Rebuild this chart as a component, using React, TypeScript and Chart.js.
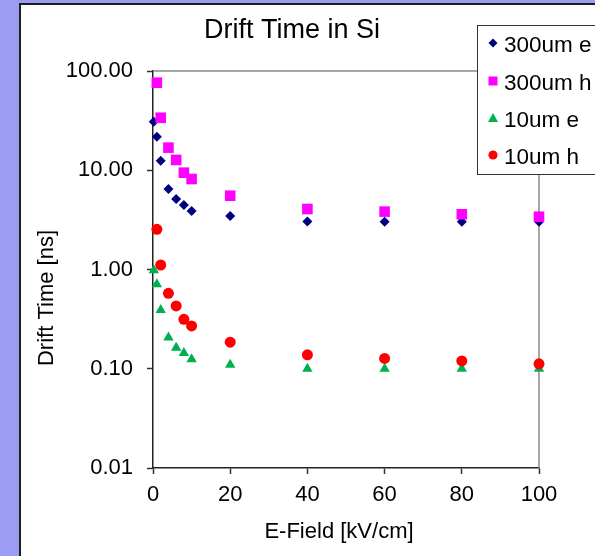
import React, { useEffect, useRef } from "react";
import { Chart, registerables } from "chart.js";

Chart.register(...registerables);

// ---- data ----
const fieldE = [0.2, 1, 2, 4, 6, 8, 10, 20, 40, 60, 80, 100];
const fieldH = [1, 2, 4, 6, 8, 10, 20, 40, 60, 80, 100];
const t300e = [30.8, 21.8, 12.5, 6.47, 5.13, 4.47, 3.88, 3.46, 3.04, 3.03, 3.02, 3.02];
const t300h = [76.2, 33.8, 16.9, 12.7, 9.45, 8.16, 5.54, 4.07, 3.83, 3.6, 3.4];
const t10e = [0.98, 0.71, 0.39, 0.207, 0.163, 0.144, 0.125, 0.11, 0.1, 0.1, 0.1, 0.1];
const t10h = [2.54, 1.11, 0.575, 0.429, 0.315, 0.27, 0.185, 0.138, 0.127, 0.12, 0.112];
const yTickValues = [0.01, 0.1, 1, 10, 100];
const seriesNames = ["300um e", "300um h", "10um e", "10um h"];
const seriesColors = ["#000080", "#FF00FF", "#00B050", "#FF0000"];
const seriesShapes = ["rectRot", "rect", "triangle", "circle"];
const seriesRadius = [5, 7.5, 6, 5.5];
const chartTitle = "Drift Time in Si";
const xTitle = "E-Field [kV/cm]";
const yTitle = "Drift Time [ns]";

const FONT = "'Liberation Sans', Arial, sans-serif";

function toPoints(xs: number[], ys: number[]) {
  return xs.map((x, i) => ({ x, y: ys[i] }));
}

function drawMarker(ctx: CanvasRenderingContext2D, shape: string, x: number, y: number, s: number, color: string) {
  ctx.fillStyle = color;
  ctx.beginPath();
  if (shape === "rectRot") {
    ctx.moveTo(x, y - s);
    ctx.lineTo(x + s, y);
    ctx.lineTo(x, y + s);
    ctx.lineTo(x - s, y);
    ctx.closePath();
  } else if (shape === "rect") {
    ctx.rect(x - s, y - s, 2 * s, 2 * s);
  } else if (shape === "triangle") {
    ctx.moveTo(x, y - s);
    ctx.lineTo(x + s, y + s * 0.8);
    ctx.lineTo(x - s, y + s * 0.8);
    ctx.closePath();
  } else {
    ctx.arc(x, y, s, 0, Math.PI * 2);
  }
  ctx.fill();
}

const decorPlugin = {
  id: "decor",
  beforeDatasetsDraw(chart: any) {
    const { ctx, chartArea: a } = chart;
    ctx.save();
    ctx.strokeStyle = "#8a8a8a";
    ctx.lineWidth = 1.5;
    ctx.beginPath();
    ctx.moveTo(a.left, a.top);
    ctx.lineTo(a.right, a.top);
    ctx.lineTo(a.right, a.bottom);
    ctx.stroke();
    ctx.restore();
  },
  afterDraw(chart: any) {
    const ctx: CanvasRenderingContext2D = chart.ctx;
    ctx.save();
    ctx.fillStyle = "#000";
    ctx.textBaseline = "alphabetic";
    // chart title
    ctx.font = `27px ${FONT}`;
    ctx.textAlign = "center";
    ctx.fillText(chartTitle, 292, 38);
    // x title
    ctx.font = `22px ${FONT}`;
    ctx.fillText(xTitle, 339, 538);
    // y title
    ctx.save();
    ctx.translate(53, 298);
    ctx.rotate(-Math.PI / 2);
    ctx.fillText(yTitle, 0, 0);
    ctx.restore();

    // legend box
    ctx.fillStyle = "#fff";
    ctx.fillRect(477, 25, 140, 149);
    ctx.strokeStyle = "#333";
    ctx.lineWidth = 1;
    ctx.strokeRect(477.5, 25.5, 140, 149);
    const rows = [43, 81, 118, 155];
    const sizes = [4.5, 4.5, 5, 4.6];
    ctx.font = `22.5px ${FONT}`;
    ctx.textAlign = "left";
    seriesNames.forEach((name, i) => {
      drawMarker(ctx, seriesShapes[i], 493, rows[i], sizes[i], seriesColors[i]);
      ctx.fillStyle = "#000";
      ctx.fillText(name, 504, rows[i] + 8.5);
    });
    ctx.restore();
  },
};

export default function App() {
  const canvasRef = useRef<HTMLCanvasElement | null>(null);

  useEffect(() => {
    const canvas = canvasRef.current;
    if (!canvas) return;
    const ys = [t300e, t300h, t10e, t10h];
    const xs = [fieldE, fieldH, fieldE, fieldH];
    const chart = new Chart(canvas, {
      type: "scatter",
      data: {
        datasets: seriesNames.map((name, i) => ({
          label: name,
          data: toPoints(xs[i], ys[i]),
          pointStyle: seriesShapes[i] as any,
          pointRadius: seriesRadius[i],
          pointHoverRadius: seriesRadius[i],
          pointBackgroundColor: seriesColors[i],
          pointBorderColor: seriesColors[i],
          pointBorderWidth: 0,
          showLine: false,
          clip: false as any,
          order: 3 - i,
        })),
      },
      plugins: [decorPlugin],
      options: {
        responsive: false,
        maintainAspectRatio: false,
        animation: false,
        devicePixelRatio: 1,
        events: [],
        layout: { padding: { left: 0, top: 71, right: 56, bottom: 0 } },
        plugins: {
          legend: { display: false },
          title: { display: false },
          tooltip: { enabled: false },
        },
        scales: {
          x: {
            type: "linear",
            min: 0,
            max: 100,
            ticks: {
              stepSize: 20,
              padding: 8,
              color: "#000",
              font: { family: FONT, size: 22 },
              maxRotation: 0,
            },
            grid: {
              display: true,
              drawOnChartArea: false,
              drawTicks: true,
              tickLength: 6,
              tickColor: "#333",
              tickWidth: 1.5,
            },
            border: { display: true, color: "#222", width: 1.5 },
            afterFit: (scale: any) => {
              scale.height = 88;
            },
          },
          y: {
            type: "logarithmic",
            min: 0.01,
            max: 100,
            afterBuildTicks: (scale: any) => {
              scale.ticks = yTickValues.map((v) => ({ value: v }));
            },
            ticks: {
              padding: 14,
              color: "#000",
              font: { family: FONT, size: 22 },
              callback: (v: any) => Number(v).toFixed(2),
            },
            grid: {
              display: true,
              drawOnChartArea: false,
              drawTicks: true,
              tickLength: 6,
              tickColor: "#333",
              tickWidth: 1.5,
            },
            border: { display: true, color: "#222", width: 1.5 },
            afterFit: (scale: any) => {
              scale.width = 153;
            },
          },
        },
      } as any,
    });
    return () => chart.destroy();
  }, []);

  return (
    <div style={{ position: "fixed", left: 0, top: 0, width: 595, height: 556, background: "#9c9cf4", overflow: "hidden" }}>
      <div
        style={{
          position: "absolute",
          left: 19,
          top: 3,
          right: -5,
          bottom: -5,
          background: "#fff",
          borderLeft: "2px solid #1e1e1e",
          borderTop: "2px solid #1e1e1e",
        }}
      />
      <canvas ref={canvasRef} width={595} height={556} style={{ position: "absolute", left: 0, top: 0, width: 595, height: 556 }} />
    </div>
  );
}
